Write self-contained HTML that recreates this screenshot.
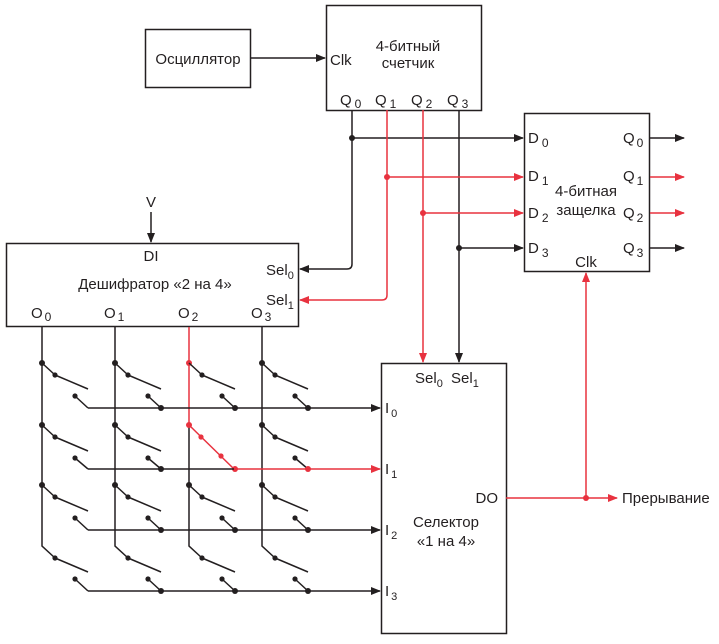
<!DOCTYPE html>
<html><head><meta charset="utf-8"><style>
html,body{margin:0;padding:0;background:#fff;}
svg text{font-family:"Liberation Sans",sans-serif;fill:#231f20;}
</style></head><body>
<svg id="s" width="719" height="639" viewBox="0 0 719 639" xmlns="http://www.w3.org/2000/svg">
<defs>
<marker id="ab" markerWidth="10" markerHeight="8" refX="9" refY="4" orient="auto" markerUnits="userSpaceOnUse"><path d="M0,0 L10,4 L0,8 z" fill="#231f20"/></marker>
<marker id="ar" markerWidth="10" markerHeight="8" refX="9" refY="4" orient="auto" markerUnits="userSpaceOnUse"><path d="M0,0 L10,4 L0,8 z" fill="#e8323f"/></marker>
</defs>
<g fill="none" stroke="#231f20" stroke-width="1.5">
<rect x="145.5" y="29.5" width="105" height="58"/>
<rect x="326.5" y="5.5" width="155" height="105"/>
<rect x="524.5" y="113.5" width="125" height="158"/>
<rect x="6.5" y="243.5" width="292" height="83"/>
<rect x="381.5" y="363.5" width="125" height="270"/>
<line x1="250" y1="58" x2="325" y2="58" marker-end="url(#ab)"/>
<line x1="151" y1="212" x2="151" y2="242" marker-end="url(#ab)"/>
<path d="M352,110 V264 Q352,269 347,269 H300" marker-end="url(#ab)"/>
<line x1="352" y1="138" x2="523" y2="138" marker-end="url(#ab)"/>
<line x1="459" y1="110" x2="459" y2="362" marker-end="url(#ab)"/>
<line x1="459" y1="248" x2="523" y2="248" marker-end="url(#ab)"/>
<line x1="650" y1="138" x2="684" y2="138" marker-end="url(#ab)"/>
<line x1="650" y1="248" x2="684" y2="248" marker-end="url(#ab)"/>
</g>
<g fill="none" stroke="#e8323f" stroke-width="1.5">
<path d="M387,110 V295 Q387,300 382,300 H300" marker-end="url(#ar)"/>
<line x1="387" y1="177" x2="523" y2="177" marker-end="url(#ar)"/>
<line x1="423" y1="110" x2="423" y2="362" marker-end="url(#ar)"/>
<line x1="423" y1="213" x2="523" y2="213" marker-end="url(#ar)"/>
<line x1="650" y1="177" x2="684" y2="177" marker-end="url(#ar)"/>
<line x1="650" y1="213" x2="684" y2="213" marker-end="url(#ar)"/>
<line x1="506" y1="498" x2="617" y2="498" marker-end="url(#ar)"/>
<line x1="586" y1="498" x2="586" y2="273" marker-end="url(#ar)"/>
</g>
<g fill="#231f20"><circle cx="352" cy="138" r="3"/><circle cx="459" cy="248" r="3"/></g>
<g fill="#e8323f"><circle cx="387" cy="177" r="3"/><circle cx="423" cy="213" r="3"/><circle cx="586" cy="498" r="3"/></g>
<g id="sw"></g>
<g font-size="15">
<text x="198" y="64" text-anchor="middle">Осциллятор</text>
<text x="330" y="65">Clk</text>
<text x="408" y="51" text-anchor="middle">4-битный</text>
<text x="408" y="68" text-anchor="middle">счетчик</text>
<text x="340" y="105">Q<tspan font-size="12" dx="3" dy="3">0</tspan></text>
<text x="375" y="105">Q<tspan font-size="12" dx="3" dy="3">1</tspan></text>
<text x="411" y="105">Q<tspan font-size="12" dx="3" dy="3">2</tspan></text>
<text x="447" y="105">Q<tspan font-size="12" dx="3" dy="3">3</tspan></text>
<text x="528" y="143">D<tspan font-size="12" dx="3" dy="4">0</tspan></text>
<text x="528" y="181">D<tspan font-size="12" dx="3" dy="4">1</tspan></text>
<text x="528" y="218">D<tspan font-size="12" dx="3" dy="4">2</tspan></text>
<text x="528" y="253">D<tspan font-size="12" dx="3" dy="4">3</tspan></text>
<text x="623" y="143">Q<tspan font-size="12" dx="2" dy="4">0</tspan></text>
<text x="623" y="181">Q<tspan font-size="12" dx="2" dy="4">1</tspan></text>
<text x="623" y="218">Q<tspan font-size="12" dx="2" dy="4">2</tspan></text>
<text x="623" y="253">Q<tspan font-size="12" dx="2" dy="4">3</tspan></text>
<text x="586" y="196" text-anchor="middle">4-битная</text>
<text x="586" y="215" text-anchor="middle">защелка</text>
<text x="586" y="267" text-anchor="middle">Clk</text>
<text x="151" y="207" text-anchor="middle">V</text>
<text x="151" y="261" text-anchor="middle">DI</text>
<text x="155" y="289" text-anchor="middle">Дешифратор «2 на 4»</text>
<text x="266" y="275">Sel<tspan font-size="11" dy="4">0</tspan></text>
<text x="266" y="305">Sel<tspan font-size="11" dy="4">1</tspan></text>
<text x="31" y="318">O<tspan font-size="12" dx="2" dy="3">0</tspan></text>
<text x="104" y="318">O<tspan font-size="12" dx="2" dy="3">1</tspan></text>
<text x="178" y="318">O<tspan font-size="12" dx="2" dy="3">2</tspan></text>
<text x="251" y="318">O<tspan font-size="12" dx="2" dy="3">3</tspan></text>
<text x="415" y="383">Sel<tspan font-size="11" dy="4">0</tspan></text>
<text x="451" y="383">Sel<tspan font-size="11" dy="4">1</tspan></text>
<text x="385" y="413">I<tspan font-size="11" dx="2" dy="4">0</tspan></text>
<text x="385" y="474">I<tspan font-size="11" dx="2" dy="4">1</tspan></text>
<text x="385" y="535">I<tspan font-size="11" dx="2" dy="4">2</tspan></text>
<text x="385" y="596">I<tspan font-size="11" dx="2" dy="4">3</tspan></text>
<text x="498" y="503" text-anchor="end">DO</text>
<text x="446" y="527" text-anchor="middle">Селектор</text>
<text x="446" y="546" text-anchor="middle">«1 на 4»</text>
<text x="622" y="503">Прерывание</text>
</g>
<script>
(function(){
var g=document.getElementById('sw'),NS='http://www.w3.org/2000/svg';
function el(t,a){var e=document.createElementNS(NS,t);for(var k in a)e.setAttribute(k,a[k]);g.appendChild(e);return e;}
var B='#231f20',R='#e8323f';
function L(p,c,m){var a={d:p,fill:'none',stroke:c,'stroke-width':1.5};if(m)a['marker-end']=m;el('path',a);}
function D(x,y,c,r){el('circle',{cx:x,cy:y,r:r||3,fill:c});}
var cols=[42,115,189,262],nodes=[363,425,485,546],lines=[408,469,530,591];
cols.forEach(function(x,ci){
 if(ci==2){L('M'+x+',327 V425',R);L('M'+x+',425 V546 L'+(x+13)+',558',B);}
 else L('M'+x+',327 V546 L'+(x+13)+',558',B);
 for(var r=0;r<4;r++){
  var y=nodes[r],ly=lines[r];
  var closed=(ci==2&&r==1);
  if(r<3)D(x,y,(ci==2&&r<2)?R:B);
  if(closed){
   L('M'+x+','+y+' L'+(x+45)+','+ly,R);
   D(x+12,y+12,R,2.6);D(x+32,y+31,R,2.6);
  } else {
   if(r<3)L('M'+x+','+y+' L'+(x+13)+','+(y+12),B);
   D(x+13,y+12,B,2.6);
   L('M'+(x+13)+','+(y+12)+' L'+(x+46)+','+(y+26),B);
   D(x+33,y+33,B,2.6);
   L('M'+(x+33)+','+(y+33)+' L'+(x+46)+','+ly,B);
  }
  if(ci>0)D(x+46,ly,(r==1&&ci>=2)?R:B);
 }
});
lines.forEach(function(ly,r){
 if(r==1){L('M88,'+ly+' H234',B);L('M234,'+ly+' H380',R,'url(#ar)');}
 else L('M88,'+ly+' H380',B,'url(#ab)');
});
})();
</script>
</svg>
</body></html>
